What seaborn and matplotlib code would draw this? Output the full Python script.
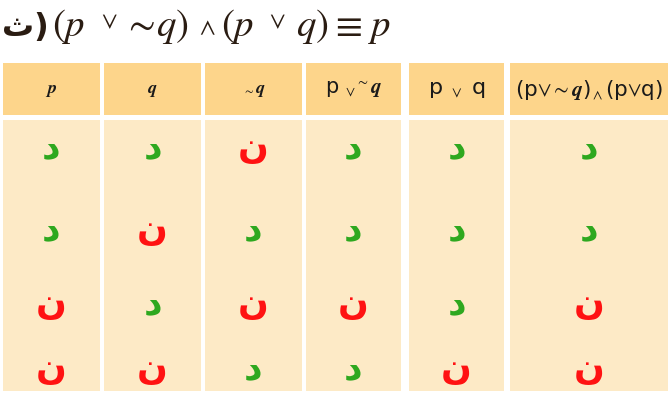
import matplotlib
matplotlib.use("Agg")
import matplotlib.pyplot as plt
import seaborn as sns
import pandas as pd

sns.set_theme(style="white")
plt.rcParams['font.family'] = ['DejaVu Sans']
plt.rcParams['mathtext.fontset'] = 'stix'

# ---- data ----
headers = [r"$\boldsymbol{p}$", r"$\boldsymbol{q}$", r"$_{\sim}\boldsymbol{q}$",
           r"p $_{\vee}$$^{\sim}$$\boldsymbol{q}$", r"p $_\vee$ q",
           r"(p$\vee$$\sim$$\boldsymbol{q}$)$_\wedge$(p$\vee$q)"]
col_p = ["د", "د", "ن", "ن"]
col_q = ["د", "ن", "د", "ن"]
col_notq = ["ن", "د", "ن", "د"]
col_p_or_notq = ["د", "د", "ن", "د"]
col_p_or_q = ["د", "د", "د", "ن"]
col_result = ["د", "د", "ن", "ن"]
columns = [col_p, col_q, col_notq, col_p_or_notq, col_p_or_q, col_result]
title_label = "ث)"
title_tokens = ["$(p$", r"$\vee$", r"${\sim}\!q)$", r"$\wedge$",
                "$(p$", r"$\vee$", "$q)$", r"$\equiv$", "$p$"]

# ---- layout ----
col_left = [3, 104, 205, 306, 409, 510]
col_right = [100, 201, 302, 401, 504, 668]
head_top, head_bot = 64, 116
body_top, body_bot = 121, 392
row_y = [148, 230, 304, 369]
header_sizes = [13, 13, 13, 15, 16, 15.5]
token_x = [52, 101, 123, 199, 221, 269, 296, 330, 368]
token_kind = ["n", "s", "n", "w", "n", "s", "n", "n", "n"]
TRUE_C = "#2ea81f"
FALSE_C = "#ff1212"
HEAD_C = "#fdd58b"
BODY_C = "#fdeac6"
INK = "#2a1c12"

fig = plt.figure(figsize=(6.72, 4.02), dpi=100)
ax = fig.add_axes([0, 0, 1, 1])
ax.set_xlim(0, 672)
ax.set_ylim(402, 0)
ax.axis("off")

lefts = pd.Series(col_left)
widths = pd.Series(col_right) - lefts
ax.bar(lefts, [head_bot - head_top] * 6, width=widths, bottom=head_top,
       align="edge", color=HEAD_C, linewidth=0)
ax.bar(lefts, [body_bot - body_top] * 6, width=widths, bottom=body_top,
       align="edge", color=BODY_C, linewidth=0)

# header labels
hy = (head_top + head_bot) / 2
centers = [(l + r) / 2 for l, r in zip(col_left, col_right)]
for ci, h in enumerate(headers):
    ax.text(centers[ci], hy, h, ha="center", va="center",
            fontsize=header_sizes[ci], color="#1a1a1a")

# body letters
for ci, col in enumerate(columns):
    for ri, v in enumerate(col):
        ax.text(centers[ci], row_y[ri], v, ha="center", va="center",
                fontsize=26, fontweight="bold",
                color=TRUE_C if v == "د" else FALSE_C)

# title
ax.text(2, 36, title_label, ha="left", va="baseline", fontsize=23, fontweight="bold",
        color=INK)
for tok, x, kind in zip(title_tokens, token_x, token_kind):
    if kind == "s":
        ax.text(x, 28, tok, ha="left", va="baseline", fontsize=18, color=INK)
    elif kind == "w":
        ax.text(x, 34, tok, ha="left", va="baseline", fontsize=18, color=INK)
    else:
        ax.text(x, 36, tok, ha="left", va="baseline", fontsize=28, color=INK)

fig.savefig("out.png", dpi=100)
